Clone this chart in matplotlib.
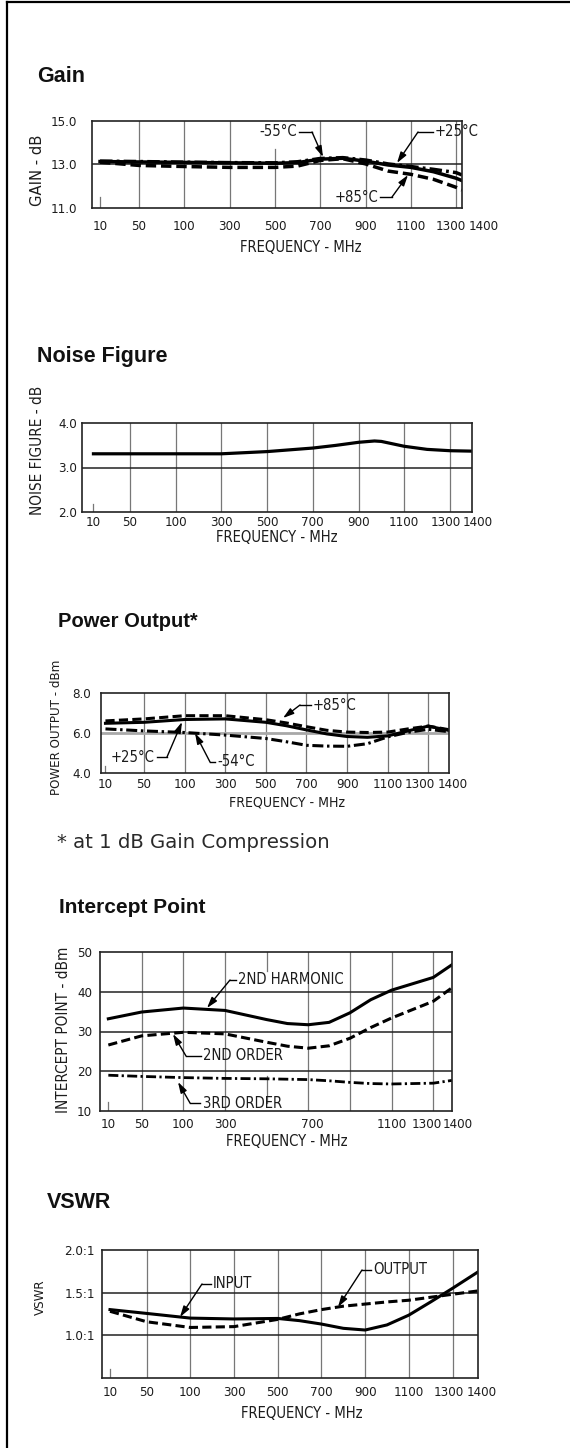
import numpy as np
import matplotlib
matplotlib.use("Agg")
import matplotlib.pyplot as plt
from matplotlib import font_manager as fm
from matplotlib.lines import Line2D
from matplotlib.patches import FancyArrowPatch
from matplotlib.transforms import blended_transform_factory, ScaledTranslation

# ---------------- chart data ----------------
freq_ticks = [10, 50, 100, 300, 500, 700, 900, 1100, 1300, 1400]
freq_tick_labels = ["10", "50", "100", "300", "500", "700", "900", "1100", "1300", "1400"]
ip_freq_ticks = [10, 50, 100, 300, 700, 1100, 1300, 1400]
ip_freq_tick_labels = ["10", "50", "100", "300", "700", "1100", "1300", "1400"]

# Gain (dB)
gain_freq = [10, 50, 100, 300, 500, 600, 700, 800, 900, 1000, 1100, 1200, 1300, 1400]
gain_m55 = [13.15, 13.13, 13.10, 13.08, 13.07, 13.12, 13.27, 13.31, 13.20, 13.02, 12.90, 12.77, 12.62, 12.51]
gain_p25 = [13.13, 13.11, 13.09, 13.07, 13.05, 13.08, 13.24, 13.28, 13.15, 12.97, 12.86, 12.66, 12.36, 12.25]
gain_p85 = [13.10, 12.95, 12.90, 12.86, 12.86, 12.92, 13.18, 13.26, 13.02, 12.69, 12.54, 12.31, 11.94, 11.82]

# Noise figure (dB)
noise_freq = [10, 50, 100, 300, 500, 700, 800, 900, 970, 1000, 1100, 1200, 1300, 1400]
noise_fig = [3.31, 3.31, 3.31, 3.31, 3.36, 3.44, 3.50, 3.57, 3.60, 3.59, 3.48, 3.41, 3.38, 3.37]

# Power output (dBm)
pow_freq = [10, 50, 100, 300, 500, 600, 700, 800, 900, 1000, 1100, 1200, 1300, 1400]
pow_p85 = [6.62, 6.72, 6.88, 6.88, 6.68, 6.52, 6.33, 6.15, 6.06, 6.04, 6.06, 6.22, 6.36, 6.18]
pow_p25 = [6.50, 6.55, 6.69, 6.72, 6.55, 6.38, 6.17, 5.97, 5.84, 5.80, 5.87, 6.12, 6.36, 6.14]
pow_m54 = [6.22, 6.12, 6.04, 5.91, 5.74, 5.58, 5.40, 5.36, 5.35, 5.48, 5.82, 6.05, 6.20, 6.08]

# Intercept point (dBm)
ip_freq = [10, 50, 100, 300, 500, 600, 700, 800, 900, 1000, 1100, 1300, 1400]
ip_h2 = [33.2, 34.9, 35.9, 35.3, 33.0, 32.0, 31.7, 32.3, 34.7, 38.0, 40.4, 43.6, 46.8]
ip_o2 = [26.6, 28.9, 29.8, 29.4, 27.3, 26.3, 25.8, 26.4, 28.3, 31.0, 33.4, 37.6, 41.0]
ip_o3 = [19.0, 18.7, 18.4, 18.2, 18.1, 18.0, 17.9, 17.6, 17.2, 16.9, 16.8, 17.0, 17.7]

# VSWR
vs_freq = [10, 50, 100, 300, 500, 600, 700, 800, 900, 1000, 1100, 1200, 1300, 1400]
vs_in = [1.30, 1.255, 1.20, 1.19, 1.196, 1.17, 1.13, 1.08, 1.06, 1.12, 1.235, 1.39, 1.55, 1.745]
vs_out = [1.28, 1.157, 1.09, 1.10, 1.185, 1.25, 1.30, 1.34, 1.365, 1.39, 1.41, 1.445, 1.48, 1.52]

# ---------------- fonts ----------------
W, H, DPI = 570, 1448, 100
_names = {f.name for f in fm.fontManager.ttflist}
_cond_dv = any(f.name == "DejaVu Sans" and str(f.stretch) == "condensed" for f in fm.fontManager.ttflist)
if "DejaVu Sans Condensed" in _names:
    NARROW = dict(family="DejaVu Sans Condensed")
    NSCALE = 1.12
elif _cond_dv:
    NARROW = dict(family="DejaVu Sans", fontstretch="condensed")
    NSCALE = 1.12
elif "Liberation Sans Narrow" in _names:
    NARROW = dict(family="Liberation Sans Narrow")
    NSCALE = 1.15
else:
    NARROW = dict(family="DejaVu Sans")
    NSCALE = 1.0

TXT = "#1c1c1c"
TITLE = dict(family="Liberation Sans", weight="bold", color="#111111")

fig = plt.figure(figsize=(W / DPI, H / DPI), dpi=DPI)
fig.patch.set_facecolor("white")


def fx(x):
    return x / W


def fy(y):
    return 1 - y / H


def ftext(x, y, s, size, ha="left", va="center", rot=0, **kw):
    fig.text(fx(x), fy(y), s, fontsize=size, ha=ha, va=va, rotation=rot, color=kw.pop("color", TXT), **kw)


def leader(s, tx, ty, ha, p0, p1, tip, size=9.5):
    ftext(tx, ty, s, size * NSCALE, ha=ha, **NARROW)
    fig.add_artist(Line2D([fx(p0[0]), fx(p1[0])], [fy(p0[1]), fy(p1[1])],
                          transform=fig.transFigure, color="k", lw=1.0))
    fig.add_artist(FancyArrowPatch((fx(p1[0]), fy(p1[1])), (fx(tip[0]), fy(tip[1])),
                                   transform=fig.transFigure,
                                   arrowstyle="-|>,head_length=0.65,head_width=0.2",
                                   mutation_scale=10, lw=1.0, color="k",
                                   shrinkA=0, shrinkB=0))


def panel(box, u_left, u_10, u_right, ylim, yticks, yticklabels, hgrid, vgrid,
          xticks, xticklabels, xlab_offsets, xlab_y, ypad, tick10_px,
          hgrid_color="#222222", hgrid_lw=1.1):
    L, R, T, B = box
    ax = fig.add_axes([fx(L), fy(B), (R - L) / W, (B - T) / H])
    f_anchor = np.array([0, 10, 50, 100, 300, 500, 700, 900, 1100, 1300, 1400], float)
    u_anchor = np.array([u_left, u_10, 1, 2, 3, 4, 5, 6, 7, 8, u_right], float)
    ax.set_xscale("function", functions=(lambda f: np.interp(f, f_anchor, u_anchor),
                                         lambda u: np.interp(u, u_anchor, f_anchor)))
    ax.set_xlim(0, 1400)
    ax.set_ylim(*ylim)
    ax.set_xticks(xticks)
    ax.set_xticklabels([])
    ax.set_yticks(yticks)
    ax.set_yticklabels(yticklabels, fontsize=8.5 * NSCALE, color=TXT, **NARROW)
    ax.tick_params(length=0)
    ax.tick_params(axis="y", pad=ypad)
    for s in ax.spines.values():
        s.set_linewidth(1.2)
        s.set_color("#222222")
    for f, y0, y1 in vgrid:
        ax.axvline(f, y0, y1, color="#777777", lw=0.9, zorder=1)
    for y in hgrid:
        ax.axhline(y, color=hgrid_color, lw=hgrid_lw, zorder=1)
    ax.axvline(xticks[0], 0, tick10_px / (B - T), color="#777777", lw=0.9, zorder=1)
    trans = blended_transform_factory(ax.transData, ax.transAxes)
    for f, lab in zip(xticks, xticklabels):
        dx = xlab_offsets.get(lab, 0)
        ax.text(f, 0, lab, transform=trans + ScaledTranslation(dx / DPI, -(xlab_y - B) / DPI, fig.dpi_scale_trans),
                ha="center", va="center", clip_on=False, fontsize=8.5 * NSCALE, color=TXT, **NARROW)
    return ax


DASH = (3.0, 1.4)
DASHDOT = (3.6, 1.2, 0.8, 1.2)
full_grid = [(f, 0, 1) for f in [50, 100, 300, 500, 700, 900, 1100, 1300]]

# ---------------- figure frame ----------------
fig.add_artist(Line2D([fx(7), fx(7)], [fy(2), 0], transform=fig.transFigure, color="k", lw=1.6))
fig.add_artist(Line2D([fx(7), 1], [fy(2), fy(2)], transform=fig.transFigure, color="k", lw=1.6))

# ---------------- Gain ----------------
ftext(37, 82, "Gain", 15.5, va="baseline", **TITLE)
g_grid = [(f, 0, 1) for f in [50, 100, 300, 700, 900, 1100, 1300]] + [(500, 0, 0.68)]
ax = panel((91.7, 462, 121, 207.7), -0.044, 0.14, 8.13, (11, 15), [11, 13, 15], ["11.0", "13.0", "15.0"],
           [13], g_grid, freq_ticks, freq_tick_labels, {"1300": -5, "1400": 22}, 226, 10.5, 11)
ax.plot(gain_freq, gain_m55, color="k", lw=2.5, dashes=DASHDOT)
ax.plot(gain_freq, gain_p25, color="k", lw=2.5)
ax.plot(gain_freq, gain_p85, color="k", lw=2.5, dashes=DASH)
ftext(37.5, 170, "GAIN - dB", 10.5 * NSCALE, ha="center", rot=90, **NARROW)
ftext(301, 247, "FREQUENCY - MHz", 9.5 * NSCALE, ha="center", **NARROW)
leader("-55°C", 297, 132, "right", (299, 132), (312, 132), (323, 157))
leader("+25°C", 435, 132, "left", (433, 132), (418, 132), (397, 163))
leader("+85°C", 378, 198, "right", (380, 197), (392, 197), (408, 175))

# ---------------- Noise figure ----------------
ftext(37, 362, "Noise Figure", 15.5, va="baseline", **TITLE)
ax = panel((81.7, 472.3, 423.3, 511.7), -0.057, 0.2, 8.49, (2, 4), [2, 3, 4], ["2.0", "3.0", "4.0"],
           [3], full_grid, freq_ticks, freq_tick_labels, {"1300": -4, "1400": 5}, 522, 3.4, 8)
ax.plot(noise_freq, noise_fig, color="k", lw=2.3)
ftext(38, 450, "NOISE FIGURE - dB", 9.8 * NSCALE, ha="center", rot=90, **NARROW)
ftext(277, 537, "FREQUENCY - MHz", 9.5 * NSCALE, ha="center", **NARROW)

# ---------------- Power output ----------------
ftext(58, 627, "Power Output*", 14.5, va="baseline", **TITLE)
ax = panel((101, 449, 693.3, 773.3), -0.06, 0.05, 8.51, (4, 8), [4, 6, 8], ["4.0", "6.0", "8.0"],
           [6], full_grid, freq_ticks, freq_tick_labels, {"1300": -8, "1400": 4}, 785, 7.2, 7,
           hgrid_color="#a8a8a8", hgrid_lw=2.0)
ax.plot(pow_freq, pow_p85, color="k", lw=2.2, dashes=DASH)
ax.plot(pow_freq, pow_p25, color="k", lw=2.2)
ax.plot(pow_freq, pow_m54, color="k", lw=2.2, dashes=DASHDOT)
ftext(57, 727, "POWER OUTPUT - dBm", 8.5 * NSCALE, ha="center", rot=90, **NARROW)
ftext(287, 802, "FREQUENCY - MHz", 9.0 * NSCALE, ha="center", **NARROW)
leader("+85°C", 313, 705, "left", (311, 705), (300, 705), (283, 718))
leader("+25°C", 155, 757, "right", (157, 757), (167, 757), (182, 722))
leader("-54°C", 217, 762, "left", (215, 762), (210, 762), (195, 733))
ftext(57, 848, "* at 1 dB Gain Compression", 14.2, va="baseline", family="DejaVu Sans", color="#2a2a2a")

# ---------------- Intercept point ----------------
ftext(59, 913, "Intercept Point", 15.0, va="baseline", **TITLE)
ip_grid = [(f, 0, 1) for f in [50, 100, 300, 700, 900, 1100, 1300]] + [(500, 0.88, 1), (500, 0.05, 0.22)]
ax = panel((100, 452, 952, 1111), 0.0, 0.2, 8.45, (10, 50), [10, 20, 30, 40, 50],
           ["10", "20", "30", "40", "50"], [20, 30, 40], ip_grid, ip_freq_ticks, ip_freq_tick_labels,
           {"700": 4, "1300": -6, "1400": 6}, 1125, 5.8, 9)
ax.plot(ip_freq, ip_h2, color="k", lw=2.2)
ax.plot(ip_freq, ip_o2, color="k", lw=2.2, dashes=DASH)
ax.plot(ip_freq, ip_o3, color="k", lw=2.0, dashes=DASHDOT)
ftext(64, 1030, "INTERCEPT POINT - dBm", 9.8 * NSCALE, ha="center", rot=90, **NARROW)
ftext(287, 1142, "FREQUENCY - MHz", 9.5 * NSCALE, ha="center", **NARROW)
leader("2ND HARMONIC", 238, 980, "left", (236, 980), (230, 980), (207, 1008))
leader("2ND ORDER", 203, 1056, "left", (201, 1056), (186, 1056), (173, 1034))
leader("3RD ORDER", 203, 1103, "left", (200, 1103), (190, 1103), (178, 1082))

# ---------------- VSWR ----------------
ftext(47, 1208, "VSWR", 15.5, va="baseline", **TITLE)
ax = panel((101.7, 478.3, 1250, 1377.7), -0.03, 0.16, 8.59, (0.5, 2.0), [1.0, 1.5, 2.0],
           ["1.0:1", "1.5:1", "2.0:1"], [1.0, 1.5], full_grid, freq_ticks, freq_tick_labels,
           {"1300": -4, "1400": 3}, 1393, 4.8, 9)
ax.plot(vs_freq, vs_in, color="k", lw=2.2)
ax.plot(vs_freq, vs_out, color="k", lw=2.2, dashes=DASH)
ftext(40, 1297, "VSWR", 8.5 * NSCALE, ha="center", rot=90, **NARROW)
ftext(302, 1414, "FREQUENCY - MHz", 9.5 * NSCALE, ha="center", **NARROW)
leader("INPUT", 213, 1284, "left", (211, 1284), (202, 1284), (180, 1317))
leader("OUTPUT", 373, 1270, "left", (371, 1270), (362, 1270), (338, 1307))

fig.savefig("out.png", dpi=DPI, facecolor="white")
